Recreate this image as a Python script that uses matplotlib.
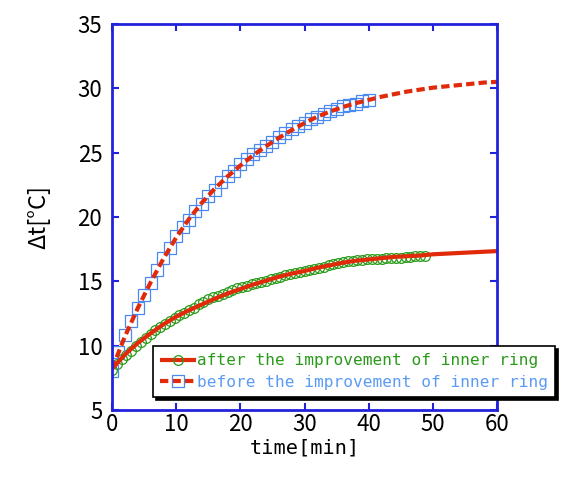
import matplotlib
matplotlib.use("Agg")
import matplotlib.pyplot as plt


# measured data, "after" every 45 s, "before" every 1 min
t_after = [i * 0.75 for i in range(66)]
dt_after = [
    8.1, 8.6, 9.0, 9.3, 9.6, 10.0, 10.3, 10.6, 10.9, 11.2,
    11.45, 11.7, 11.95, 12.15, 12.35, 12.55, 12.75, 12.95, 13.2, 13.4,
    13.6, 13.75, 13.85, 14.0, 14.15, 14.3, 14.45, 14.55, 14.65, 14.8,
    14.85, 14.95, 15.05, 15.15, 15.25, 15.35, 15.5, 15.6, 15.65, 15.75,
    15.8, 15.9, 15.95, 16.05, 16.15, 16.25, 16.35, 16.4, 16.5, 16.55,
    16.6, 16.65, 16.65, 16.7, 16.7, 16.75, 16.75, 16.8, 16.8, 16.85,
    16.85, 16.9, 16.9, 16.95, 17.0, 17.0,
]

t_before = list(range(41))
dt_before = [
    8.0, 9.5, 10.8, 11.9, 12.9, 13.9, 14.9, 15.9, 16.8, 17.6,
    18.5, 19.2, 19.8, 20.5, 21.0, 21.6, 22.1, 22.7, 23.2, 23.6,
    24.1, 24.5, 24.9, 25.2, 25.5, 25.8, 26.2, 26.5, 26.8, 27.1,
    27.3, 27.6, 27.8, 28.0, 28.2, 28.4, 28.6, 28.7, 28.8, 29.0,
    29.1,
]

# fitted curves
t_fit = list(range(0, 61, 2))
fit_after = [
    8.2, 9.3, 10.2, 10.95, 11.65, 12.25, 12.75, 13.2, 13.65, 14.05,
    14.4, 14.75, 15.05, 15.35, 15.6, 15.8, 16.05, 16.25, 16.45, 16.6,
    16.7, 16.8, 16.9, 16.95, 17.0, 17.1, 17.15, 17.2, 17.25, 17.3,
    17.35,
]
fit_before = [
    8.2, 10.7, 12.9, 14.9, 16.75, 18.4, 19.85, 21.1, 22.2, 23.15,
    24.0, 24.8, 25.5, 26.15, 26.75, 27.3, 27.8, 28.2, 28.55, 28.85,
    29.1, 29.35, 29.55, 29.75, 29.9, 30.05, 30.15, 30.25, 30.35, 30.45,
    30.5,
]

xticks = [0, 10, 20, 30, 40, 50, 60]
yticks = [5, 10, 15, 20, 25, 30, 35]

label_after = "after the improvement of inner ring"
label_before = "before the improvement of inner ring"

RED = "#e02a0a"
GREEN = "#2a9a1a"
BLUE_MK = "#4a8af0"
BLUE_TXT = "#5b9bf5"
AXIS_BLUE = "#2222dd"


fig = plt.figure(figsize=(5.64, 4.79), dpi=100)
ax = fig.add_axes([0.1986, 0.1441, 0.6826, 0.8058])

mk_after, = ax.plot(t_after, dt_after, linestyle="none", marker="o", ms=7,
                    mfc="none", mec=GREEN, mew=0.9)
mk_before, = ax.plot(t_before, dt_before, linestyle="none", marker="s", ms=8,
                     mfc="none", mec=BLUE_MK, mew=0.9)
ln_after, = ax.plot(t_fit, fit_after, color=RED, lw=3, solid_capstyle="butt")
ln_before, = ax.plot(t_fit, fit_before, color=RED, lw=3, linestyle=(0, (2, 1)))

ax.set_xlim(0, 60)
ax.set_ylim(5, 35)
ax.set_xticks(xticks)
ax.set_yticks(yticks)
ax.set_xticklabels([str(v) for v in xticks], family="Noto Sans CJK JP", fontsize=16)
ax.set_yticklabels([str(v) for v in yticks], family="Noto Sans CJK JP", fontsize=16)

for s in ax.spines.values():
    s.set_color(AXIS_BLUE)
    s.set_linewidth(2)
ax.tick_params(direction="in", length=5, width=1.5, color=AXIS_BLUE,
               top=True, right=True)
ax.tick_params(axis="x", pad=2)
ax.tick_params(axis="y", pad=7)

ax.set_xlabel("time[min]", family="DejaVu Sans Mono", fontsize=14.6, labelpad=2)
ax.set_ylabel("Δt[°C]", family=["Noto Sans CJK JP", "DejaVu Sans"], fontsize=17,
              labelpad=20)

leg = ax.legend(
    [(ln_after, mk_after), (ln_before, mk_before)],
    [label_after, label_before],
    loc="upper left",
    bbox_to_anchor=(0.271, 0.2777),
    bbox_transform=fig.transFigure,
    prop={"family": "DejaVu Sans Mono", "size": 11.6},
    handlelength=2.2,
    handletextpad=0.1,
    labelspacing=0.4,
    borderpad=0.45,
    borderaxespad=0,
    fancybox=False,
    framealpha=1,
    edgecolor="black",
    shadow={"color": "black", "alpha": 1},
)
leg.get_frame().set_linewidth(1.2)
leg.get_texts()[0].set_color(GREEN)
leg.get_texts()[1].set_color(BLUE_TXT)

fig.savefig("out.png", dpi=100)
